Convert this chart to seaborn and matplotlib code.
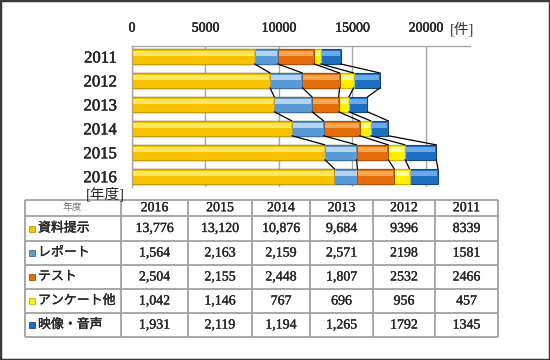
import pandas as pd
import matplotlib
matplotlib.use('Agg')
import matplotlib.pyplot as plt
import matplotlib.patheffects as pe
import seaborn as sns
from matplotlib.patches import Rectangle

# Chart data
years = ['2011', '2012', '2013', '2014', '2015', '2016']
table_years = ['2016', '2015', '2014', '2013', '2012', '2011']
series_names = ['資料提示', 'レポート', 'テスト', 'アンケート他', '映像・音声']

# values in table order (2016 -> 2011)
shiryo = [13776, 13120, 10876, 9684, 9396, 8339]
report = [1564, 2163, 2159, 2571, 2198, 1581]
test = [2504, 2155, 2448, 1807, 2532, 2466]
enquete = [1042, 1146, 767, 696, 956, 457]
eizo = [1931, 2119, 1194, 1265, 1792, 1345]

x_ticks = [0, 5000, 10000, 15000, 20000]

colors = ['#F8C300', '#5B9BD5', '#E46C0A', '#FFEF00', '#1F6FC1']
light = ['#FFE65C', '#B4D3F2', '#F8A650', '#FFFAA0', '#6AAAEA']
edges = ['#C89A00', '#3A6FA8', '#B04F00', '#C8B800', '#0D4A8C']

sns.set_theme(style='white')
plt.rcParams['font.family'] = ['Liberation Serif', 'Noto Sans CJK JP']

# slightly heavier strokes, like the Mincho text in the original
heavy = [pe.withStroke(linewidth=0.3, foreground='black')]
medium = [pe.withStroke(linewidth=0.2, foreground='black')]

df = pd.DataFrame(dict(zip(series_names, [shiryo, report, test, enquete, eizo])),
                  index=table_years)
chart = df.loc[years]
cum = chart.cumsum(axis=1)

fig = plt.figure(figsize=(5.5, 3.6), dpi=100)
ax = fig.add_axes([132 / 550, 1 - 187 / 360, (470 - 132) / 550, (187 - 45.7) / 360])

# stacked bars: draw cumulative totals from largest to smallest
for i in reversed(range(len(series_names))):
    name = series_names[i]
    d = pd.DataFrame({'year': years, 'value': cum[name].values})
    sns.barplot(data=d, x='value', y='year', order=years, orient='h',
                color=colors[i], saturation=1, width=0.62,
                edgecolor=edges[i], linewidth=0.8, ax=ax)
    # lighter band for the bevelled look
    n0 = len(ax.patches)
    sns.barplot(data=d, x='value', y='year', order=years, orient='h',
                color=light[i], saturation=1, width=0.2, linewidth=0, ax=ax)
    for p in ax.patches[n0:]:
        p.set_y(p.get_y() - 0.12)
        p.set_width(max(p.get_width() - 60, 0))

# series lines between neighbouring bars
for name in series_names:
    for k in range(len(years) - 1):
        ax.plot([cum[name].iloc[k], cum[name].iloc[k + 1]], [k + 0.31, k + 0.69],
                color='black', lw=0.9, zorder=1)

ax.set_xlim(0, 23000)
ax.set_ylim(5.45, -0.45)
ax.xaxis.tick_top()
ax.set_xticks(x_ticks)
ax.set_xticklabels([str(t) for t in x_ticks], fontsize=10)
ax.set_yticks(range(len(years)))
ax.set_yticklabels(years, fontsize=12)
for lab in ax.get_xticklabels() + ax.get_yticklabels():
    lab.set_path_effects(heavy)
ax.tick_params(axis='x', length=0, pad=8)
ax.tick_params(axis='y', length=0, pad=11)
ax.set_xlabel('')
ax.set_ylabel('')
ax.grid(axis='x', color='#A6A6A6', lw=1)
ax.set_axisbelow(True)
for s in ['right', 'bottom']:
    ax.spines[s].set_visible(False)
for s in ['top', 'left']:
    ax.spines[s].set_color('#A6A6A6')
    ax.spines[s].set_linewidth(1)

fig.text(450 / 550, 1 - 29 / 360, '[件]', fontsize=10.5, va='center', ha='left', color='#333333')
fig.text(86 / 550, 1 - 194 / 360, '[年度]', fontsize=10.5, va='center', ha='left')

# data table below the chart
tab = fig.add_axes([0, 0, 1, 1])
tab.set_xlim(0, 550)
tab.set_ylim(360, 0)
tab.axis('off')
tab.patch.set_visible(False)

col_edges = [24.5, 121, 188, 252, 310, 373, 435, 498]
row_edges = [199.5, 216, 241, 265, 289, 313, 337]
tab.hlines(row_edges, col_edges[0], col_edges[-1], color='#A0A0A0', lw=1.3)
tab.vlines(col_edges, row_edges[0], row_edges[-1], color='#A0A0A0', lw=1.3)


def cell_text(v, year):
    return f'{v:,}' if int(year) >= 2013 else str(v)


hy = (row_edges[0] + row_edges[1]) / 2
tab.text((col_edges[0] + col_edges[1]) / 2, hy, '年度', fontsize=7, color='#777777',
         ha='center', va='center')
for j, yr in enumerate(table_years):
    cx = (col_edges[j + 1] + col_edges[j + 2]) / 2
    tab.text(cx, hy, yr, fontsize=10, ha='center', va='center', path_effects=medium)

for i, name in enumerate(series_names):
    cy = (row_edges[i + 1] + row_edges[i + 2]) / 2
    tab.scatter([32], [cy], marker='s', s=16, color=colors[i], edgecolor=edges[i], lw=0.6)
    tab.text(38, cy, name, fontsize=9.3, ha='left', va='center', path_effects=medium)
    for j, yr in enumerate(table_years):
        cx = (col_edges[j + 1] + col_edges[j + 2]) / 2
        tab.text(cx, cy, cell_text(df.loc[yr, name], yr), fontsize=10,
                 ha='center', va='center', path_effects=medium)

fig.add_artist(Rectangle((0, 0), 1, 1, transform=fig.transFigure, fill=False,
                         edgecolor='#3A3A3A', lw=2.5))

fig.savefig('out.png', dpi=100)
plt.close(fig)
